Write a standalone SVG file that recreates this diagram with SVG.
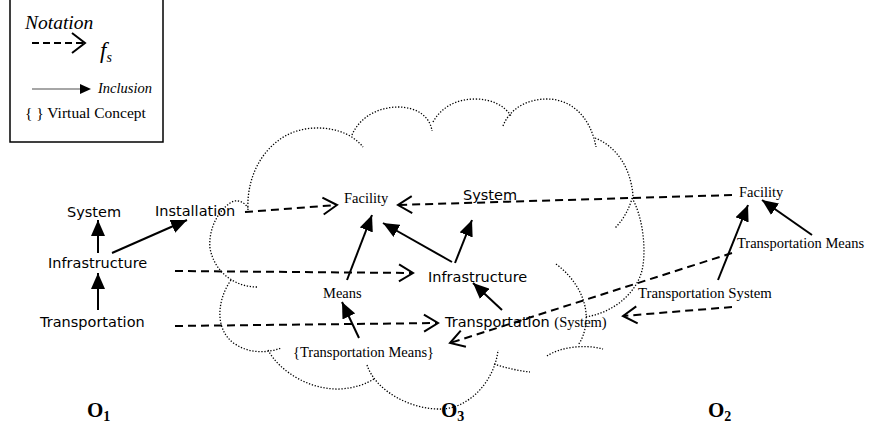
<svg xmlns="http://www.w3.org/2000/svg" width="870" height="429" viewBox="0 0 870 429">
<style>
.sans{font-family:"DejaVu Sans",Verdana,sans-serif;font-size:14.5px;fill:#000}
.serif{font-family:"Liberation Serif","Times New Roman",serif;font-size:14.5px;fill:#000}
.it{font-family:"Liberation Serif","Times New Roman",serif;font-style:italic;fill:#000}
.big{font-family:"Liberation Serif","Times New Roman",serif;font-weight:bold;font-size:21px;fill:#000}
.inc{stroke:#000;stroke-width:2;fill:none;marker-end:url(#tri)}
.fs{stroke:#000;stroke-width:2;stroke-dasharray:8 5;fill:none;marker-end:url(#chev)}
.cloud{stroke:#000;stroke-width:1.3;stroke-dasharray:1.3 1.7;fill:none}
</style>
<defs>
<marker id="tri" viewBox="0 0 16 14" refX="16" refY="7" markerWidth="16" markerHeight="14" markerUnits="userSpaceOnUse" orient="auto">
<path d="M0,0 L16,7 L0,14 z" fill="#000"/>
</marker>
<marker id="chev" viewBox="-2 -2 19 21" refX="14" refY="8.5" markerWidth="19" markerHeight="21" markerUnits="userSpaceOnUse" orient="auto">
<path d="M0,0 L14,8.5 L0,17" fill="none" stroke="#000" stroke-width="2" stroke-dasharray="none"/>
</marker>
</defs>

<g id="legend">
<rect x="10" y="-2" width="153" height="144" fill="#fff" stroke="#000" stroke-width="1.5"/>
<text class="it" x="25" y="29" style="font-size:19.5px">Notation</text>
<line x1="32" y1="43" x2="83" y2="43" stroke="#000" stroke-width="2" stroke-dasharray="7 4"/>
<polyline points="72,33 85,43 72,53" fill="none" stroke="#000" stroke-width="2"/>
<text class="it" x="100" y="58" style="font-size:23px">f<tspan dy="4" style="font-size:14px">s</tspan></text>
<line x1="32" y1="89" x2="81" y2="89" stroke="#888" stroke-width="1.5"/>
<path d="M80,84 L91,89 L80,94 z" fill="#000"/>
<text class="it" x="98" y="93" style="font-size:14.5px">Inclusion</text>
<text class="serif" x="25" y="118" style="font-size:15.5px">{ } Virtual Concept</text>
</g>

<g id="cloud">
<path class="cloud" d="M248,210 C246,170 270,135 305,129 C330,125 352,133 363,147"/>
<path class="cloud" d="M352,135 C360,116 380,107 398,107 C416,107 430,116 432,131"/>
<path class="cloud" d="M433,122 C442,106 458,99 475,99 C492,99 505,106 511,116"/>
<path class="cloud" d="M503,126 C510,108 528,99 547,99 C570,99 590,115 596,147"/>
<path class="cloud" d="M595,138 C615,146 630,165 633,195 Q628,215 615,228"/>
<path class="cloud" d="M632,198 C642,215 646,245 643,265 C640,290 615,313 585,317"/>
<path class="cloud" d="M556,264 C575,278 588,300 586,322 C585,332 582,340 578,345"/>
<path class="cloud" d="M547,356 C560,347 585,344 603,349"/>
<path class="cloud" d="M367,365 C375,390 410,410 442,409 C470,408 495,380 498,350"/>
<path class="cloud" d="M494,364 Q512,370 530,372"/>
<path class="cloud" d="M268,350 C280,372 310,390 340,389 C355,388 366,384 374,379"/>
<path class="cloud" d="M231,280 C217,300 214,330 235,344 C250,354 268,353 281,348"/>
<path class="cloud" d="M257,287 C235,287 214,272 210,248 C208,228 220,207 234,201 Q243,200 248,208"/>
</g>

<g id="connectors">
<line class="inc" x1="98" y1="253" x2="98" y2="220"/>
<line class="inc" x1="98" y1="310" x2="98" y2="273"/>
<line class="inc" x1="112" y1="253" x2="187" y2="220"/>
<line class="inc" x1="347" y1="280" x2="372" y2="215"/>
<line class="inc" x1="452" y1="262" x2="383" y2="223"/>
<line class="inc" x1="455" y1="263" x2="472" y2="220"/>
<line class="inc" x1="359" y1="338" x2="342" y2="302"/>
<line class="inc" x1="502" y1="310" x2="473" y2="283"/>
<line class="inc" x1="718" y1="280" x2="748" y2="205"/>
<line class="inc" x1="812" y1="235" x2="762" y2="200"/>
<line class="fs" x1="245" y1="212" x2="337" y2="205"/>
<line class="fs" x1="732" y1="195" x2="398" y2="205"/>
<line class="fs" x1="175" y1="271" x2="413" y2="273"/>
<line class="fs" x1="175" y1="326" x2="438" y2="323"/>
<line class="fs" x1="732" y1="307" x2="623" y2="316"/>
<line class="fs" x1="732" y1="253" x2="450" y2="343"/>
</g>

<g id="o1-system"><text class="sans" x="67" y="217">System</text></g>
<g id="o1-installation"><text class="sans" x="155" y="216">Installation</text></g>
<g id="o1-infrastructure"><text class="sans" x="48" y="268">Infrastructure</text></g>
<g id="o1-transportation"><text class="sans" x="40" y="327">Transportation</text></g>

<g id="o3-facility"><text class="serif" x="344" y="203">Facility</text></g>
<g id="o3-system"><text class="sans" x="463" y="200">System</text></g>
<g id="o3-infrastructure"><text class="sans" x="428" y="282">Infrastructure</text></g>
<g id="o3-means"><text class="serif" x="323" y="298">Means</text></g>
<g id="o3-transportation"><text class="sans" x="445" y="327">Transportation <tspan class="serif" style="font-family:'Liberation Serif','Times New Roman',serif">(System)</tspan></text></g>
<g id="o3-tmeans"><text class="serif" x="293" y="357">{Transportation Means}</text></g>

<g id="o2-facility"><text class="serif" x="739" y="197">Facility</text></g>
<g id="o2-tmeans"><text class="serif" x="737" y="248">Transportation Means</text></g>
<g id="o2-tsystem"><text class="serif" x="638" y="298" style="font-size:14.8px">Transportation System</text></g>

<g id="labels">
<text class="big" x="87" y="417">O<tspan dy="4" style="font-size:14px">1</tspan></text>
<text class="big" x="441" y="417">O<tspan dy="4" style="font-size:14px">3</tspan></text>
<text class="big" x="708" y="417">O<tspan dy="4" style="font-size:14px">2</tspan></text>
</g>
</svg>
